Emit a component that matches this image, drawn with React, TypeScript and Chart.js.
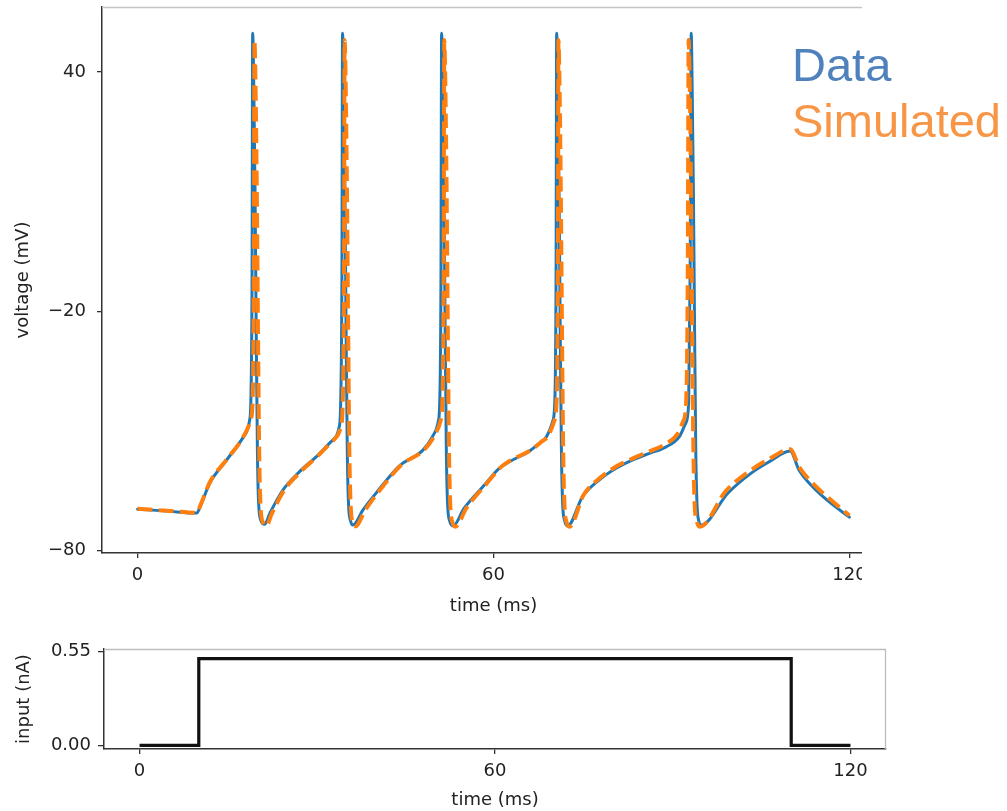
import React, { useEffect, useRef } from 'react';
import { Chart, registerables } from 'chart.js';

Chart.register(...registerables);

// ---- Data ----
const seriesNames = ['Data', 'Simulated'];

const dataTime = [
  0, 5, 10, 10.6, 12.2, 15.0, 17.8, 18.9, 19.1, 19.3, 19.4, 19.6, 19.8, 20.0, 20.2, 20.4, 20.8, 21.4,
  22.3, 24.5, 27.3, 30.1, 32.9, 34.0, 34.25, 34.45, 34.55, 34.75, 34.95, 35.15, 35.35, 35.55, 35.9, 36.3,
  38.0, 40.2, 44.1, 48.1, 49.8, 50.7, 50.95, 51.15, 51.25, 51.45, 51.65, 51.85, 52.05, 52.25, 52.6, 53.2,
  55.0, 58.2, 61.0, 62.7, 66.1, 67.7, 68.9, 70.0, 70.35, 70.55, 70.65, 70.85, 71.05, 71.25, 71.45, 71.65, 72.0, 72.5,
  75.0, 77.8, 80.6, 83.4, 86.3, 89.1, 91.3, 92.4, 92.9, 93.15, 93.33, 93.5, 93.7, 93.9, 94.1, 94.3, 94.6, 95.0,
  99.5, 103.5, 106.5, 110.0, 111.5, 113.8, 116.6, 120.0,
];
const dataVoltage = [
  -69.6, -70.1, -70.6, -68.8, -63.0, -57.3, -51.6, -47.2, -42, -10, 49.7, 35, 10, -25, -55, -68, -72.5, -73.4,
  -70.6, -64.8, -60.2, -56.5, -52.3, -48.9, -42, -10, 49.7, 35, 10, -25, -55, -68, -72.5, -73.6,
  -69.8, -65.6, -58.8, -54.8, -51.2, -47.5, -42, -10, 49.7, 35, 10, -25, -55, -68, -72.5, -73.8,
  -69.5, -64.0, -59.3, -57.7, -55.0, -53.1, -51.5, -47.5, -42, -10, 49.7, 35, 10, -25, -55, -68, -72.5, -73.8,
  -66.5, -62.3, -59.4, -57.3, -55.6, -54.0, -51.5, -48.1, -43, -10, 49.7, 35, 10, -25, -55, -68, -72.5, -73.6,
  -65.6, -60.5, -57.7, -55.0, -59.8, -64.0, -67.8, -71.6,
];

const simTime = [
  0, 5, 10, 10.6, 12.2, 15.0, 17.8, 19.1, 19.4, 19.6, 19.7, 19.9, 20.1, 20.3, 20.5, 20.7, 21.1, 21.7,
  22.6, 24.7, 27.5, 30.3, 33.1, 34.3, 34.6, 34.8, 34.9, 35.1, 35.3, 35.5, 35.7, 35.9, 36.25, 36.7,
  38.4, 40.5, 44.4, 48.4, 50.1, 51.1, 51.4, 51.6, 51.7, 51.9, 52.1, 52.3, 52.5, 52.7, 53.05, 53.6,
  55.4, 58.5, 61.3, 63.0, 66.4, 68.0, 69.2, 70.3, 70.65, 70.85, 70.95, 71.15, 71.35, 71.55, 71.75, 71.95, 72.3, 72.8,
  75.2, 78.0, 80.8, 83.6, 86.5, 89.0, 91.0, 92.0, 92.5, 92.75, 92.9, 93.1, 93.3, 93.5, 93.7, 93.9, 94.3, 94.8,
  99.2, 103.2, 106.3, 110.0, 111.6, 114.0, 116.8, 120.0,
];
const simVoltage = [
  -69.5, -70.0, -70.5, -68.6, -62.8, -57.2, -51.5, -47.0, -42, -10, 48, 35, 10, -25, -55, -68, -72.8, -73.8,
  -70.8, -64.9, -60.2, -56.4, -52.2, -48.8, -42, -10, 48, 35, 10, -25, -55, -68, -72.8, -73.9,
  -69.8, -65.5, -58.6, -54.6, -51.0, -47.3, -42, -10, 48, 35, 10, -25, -55, -68, -72.8, -74.0,
  -69.4, -63.8, -59.0, -57.3, -54.7, -52.8, -51.2, -47.2, -42, -10, 48, 35, 10, -25, -55, -68, -72.8, -74.0,
  -66.0, -61.7, -58.8, -56.8, -55.0, -53.3, -50.8, -47.5, -42, -10, 48, 35, 10, -25, -55, -68, -72.8, -74.0,
  -65.0, -60.0, -57.2, -54.6, -59.2, -63.4, -67.2, -71.2,
];

const inputTime = [0, 10, 10, 110, 110, 120];
const inputCurrent = [0, 0, 0.51, 0.51, 0, 0];

const timeTicks = [0, 60, 120];
const voltageTicks = [-80, -20, 40];
const inputTicks = [0, 0.55];

// ---- Styling ----
const TEXT = '#222222';
const SPINE = '#333333';
const FONT = { family: "'DejaVu Sans', sans-serif", size: 18 };

const lightFrame = {
  id: 'lightFrame',
  afterDatasetsDraw(chart: any, _args: any, opts: any) {
    const { ctx, chartArea: a } = chart;
    ctx.save();
    ctx.strokeStyle = opts.color || '#c4c4c4';
    ctx.lineWidth = opts.width || 1.3;
    ctx.beginPath();
    if (opts.top) {
      ctx.moveTo(a.left, a.top + 0.5);
      ctx.lineTo(a.right, a.top + 0.5);
    }
    if (opts.right) {
      ctx.moveTo(a.right - 0.5, a.top);
      ctx.lineTo(a.right - 0.5, a.bottom);
    }
    ctx.stroke();
    ctx.restore();
  },
};

const pts = (xs: number[], ys: number[]) => xs.map((x, i) => ({ x, y: ys[i] }));

const fmtNum = (v: number) => (v < 0 ? '\u2212' + Math.abs(v) : String(v));

function makeXScale(height: number, labelPad: number, titlePad: number) {
  return {
    type: 'linear',
    min: -6,
    max: 126,
    afterBuildTicks: (s: any) => {
      s.ticks = timeTicks.map((v) => ({ value: v }));
    },
    afterFit: (s: any) => {
      s.height = height;
      s.paddingLeft = 0;
      s.paddingRight = 0;
    },
    ticks: {
      autoSkip: false,
      maxRotation: 0,
      padding: labelPad,
      color: TEXT,
      font: FONT,
      callback: (v: any) => fmtNum(Number(v)),
    },
    grid: { drawOnChartArea: false, drawTicks: true, tickLength: 5, color: SPINE, lineWidth: 1.3 },
    border: { display: true, color: SPINE, width: 1.5 },
    title: { display: true, text: 'time (ms)', color: TEXT, font: FONT, padding: { top: 0, bottom: titlePad } },
  };
}

function TopChart() {
  const ref = useRef<HTMLCanvasElement | null>(null);
  useEffect(() => {
    if (!ref.current) return;
    const chart = new Chart(ref.current, {
      type: 'line',
      data: {
        datasets: [
          {
            label: seriesNames[0],
            data: pts(dataTime, dataVoltage),
            borderColor: '#1f77b4',
            borderWidth: 3,
            pointRadius: 0,
            cubicInterpolationMode: 'monotone',
            borderJoinStyle: 'round',
            borderCapStyle: 'round',
            order: 2,
          },
          {
            label: seriesNames[1],
            data: pts(simTime, simVoltage),
            borderColor: '#ff7f0e',
            borderWidth: 4,
            borderDash: [14.8, 6.4],
            pointRadius: 0,
            cubicInterpolationMode: 'monotone',
            borderJoinStyle: 'round',
            order: 1,
          },
        ],
      },
      options: {
        responsive: false,
        animation: false,
        events: [],
        layout: { padding: { top: 7, right: 15, left: 0, bottom: 0 } },
        plugins: {
          legend: { display: false },
          tooltip: { enabled: false },
          lightFrame: { top: true, right: true, color: '#c4c4c4', width: 1.3 },
        } as any,
        scales: {
          x: makeXScale(67, 7, 3) as any,
          y: {
            type: 'linear',
            min: -80.6,
            max: 56.3,
            afterBuildTicks: (s: any) => {
              s.ticks = voltageTicks.map((v) => ({ value: v }));
            },
            afterFit: (s: any) => {
              s.width = 102;
              s.paddingTop = 0;
              s.paddingBottom = 0;
            },
            ticks: { autoSkip: false, padding: 11, color: TEXT, font: FONT, callback: (v: any) => fmtNum(Number(v)) },
            grid: { drawOnChartArea: false, drawTicks: true, tickLength: 5, color: SPINE, lineWidth: 1.3 },
            border: { display: true, color: SPINE, width: 1.5 },
            title: { display: true, text: 'voltage (mV)', color: TEXT, font: FONT, padding: { top: 13, bottom: 0 } },
          },
        },
      },
      plugins: [lightFrame],
    } as any);
    return () => chart.destroy();
  }, []);
  return <canvas ref={ref} width={900} height={620} style={{ width: 900, height: 620, display: 'block' }} />;
}

function BottomChart() {
  const ref = useRef<HTMLCanvasElement | null>(null);
  useEffect(() => {
    if (!ref.current) return;
    const chart = new Chart(ref.current, {
      type: 'line',
      data: {
        datasets: [
          {
            label: 'input',
            data: pts(inputTime, inputCurrent),
            borderColor: '#111111',
            borderWidth: 3.2,
            pointRadius: 0,
            tension: 0,
            borderJoinStyle: 'miter',
          },
        ],
      },
      options: {
        responsive: false,
        animation: false,
        events: [],
        layout: { padding: { top: 29, right: 14, left: 0, bottom: 0 } },
        plugins: {
          legend: { display: false },
          tooltip: { enabled: false },
          lightFrame: { top: true, right: true, color: '#bdbdbd', width: 1.3 },
        } as any,
        scales: {
          x: makeXScale(62, 6.5, 0) as any,
          y: {
            type: 'linear',
            min: -0.021,
            max: 0.566,
            afterBuildTicks: (s: any) => {
              s.ticks = inputTicks.map((v) => ({ value: v }));
            },
            afterFit: (s: any) => {
              s.width = 104;
              s.paddingTop = 0;
              s.paddingBottom = 0;
            },
            ticks: { autoSkip: false, padding: 7, color: TEXT, font: FONT, callback: (v: any) => Number(v).toFixed(2) },
            grid: { drawOnChartArea: false, drawTicks: true, tickLength: 6, color: SPINE, lineWidth: 1.3 },
            border: { display: true, color: SPINE, width: 1.5 },
            title: { display: true, text: 'input (nA)', color: TEXT, font: FONT, padding: { top: 14, bottom: 0 } },
          },
        },
      },
      plugins: [lightFrame],
    } as any);
    return () => chart.destroy();
  }, []);
  return <canvas ref={ref} width={900} height={191} style={{ width: 900, height: 191, display: 'block' }} />;
}

export default function App() {
  const legendStyle: React.CSSProperties = {
    position: 'absolute',
    left: 792,
    fontFamily: "'Liberation Sans', Arial, sans-serif",
    fontSize: 47,
    lineHeight: '47px',
    whiteSpace: 'nowrap',
  };
  return (
    <div style={{ position: 'absolute', left: 0, top: 0, width: 1007, height: 811, background: '#ffffff', overflow: 'hidden' }}>
      <div style={{ position: 'absolute', left: 0, top: 0, width: 862, height: 620, overflow: 'hidden' }}>
        <TopChart />
      </div>
      <div style={{ position: 'absolute', left: 0, top: 620, width: 900, height: 191 }}>
        <BottomChart />
      </div>
      <div style={{ ...legendStyle, top: 41, color: '#4f81bd' }}>{seriesNames[0]}</div>
      <div style={{ ...legendStyle, top: 97, color: '#f79646' }}>{seriesNames[1]}</div>
    </div>
  );
}
